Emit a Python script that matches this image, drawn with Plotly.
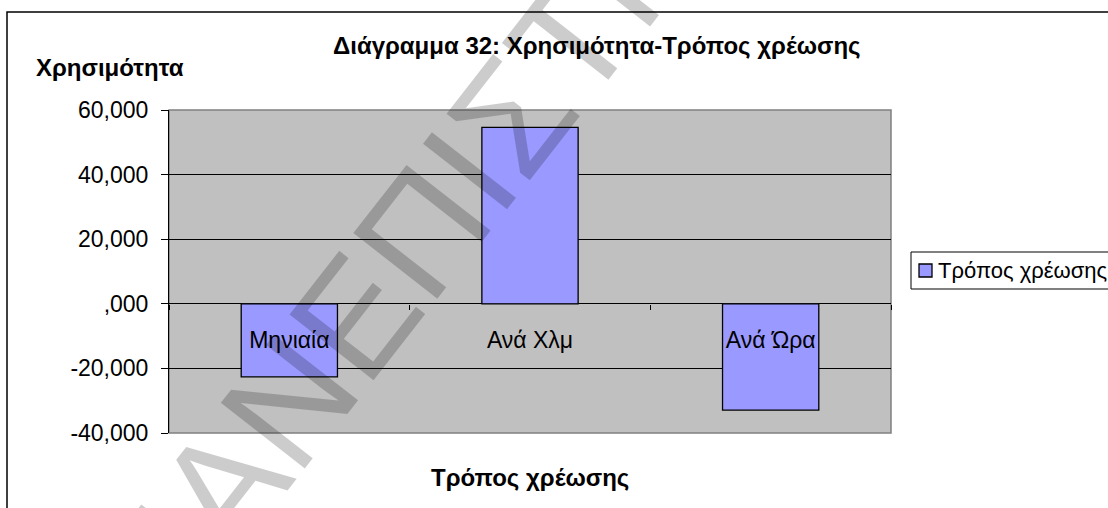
import plotly.graph_objects as go

categories = ["Μηνιαία", "Ανά Χλμ", "Ανά Ώρα"]
values = [-22.6, 54.6, -32.9]
series_name = "Τρόπος χρέωσης"
y_tickvals = [-40, -20, 0, 20, 40, 60]
y_ticktext = ["-40,000", "-20,000", ",000", "20,000", "40,000", "60,000"]
title_text = "Διάγραμμα 32: Χρησιμότητα-Τρόπος χρέωσης"
y_title = "Χρησιμότητα"
x_title = "Τρόπος χρέωσης"
watermark = "ΠΑΝΕΠΙΣΤΗΜΙΟ"

W, H = 1108, 508
L, R, T, B = 169, 891, 110, 433
FONT = "Arial, Liberation Sans, sans-serif"
BAR_COLOR = "#9999FF"

def px(x):
    return (x - L) / (R - L)

def py(y):
    return (B - y) / (B - T)

fig = go.Figure()
fig.add_trace(go.Bar(
    x=categories, y=values, name=series_name, width=0.4,
    marker=dict(color=BAR_COLOR, line=dict(color="black", width=1.3)),
    showlegend=False,
))

ymin, ymax = -40, 60
zero_frac = (0 - ymin) / (ymax - ymin)

fig.update_layout(
    width=W, height=H,
    margin=dict(l=L, r=W - R, t=T, b=H - B, autoexpand=False),
    paper_bgcolor="white",
    plot_bgcolor="#C0C0C0",
    font=dict(family=FONT, color="black"),
    xaxis=dict(
        anchor="free", position=zero_frac,
        showgrid=False, showline=False, zeroline=False,
        ticks="outside", ticklen=5, tickcolor="black", tickwidth=1,
        tickson="boundaries",
        tickfont=dict(size=23, family=FONT),
        ticklabelstandoff=20,
    ),
    yaxis=dict(
        range=[ymin, ymax], tickvals=y_tickvals, ticktext=y_ticktext,
        showgrid=True, gridcolor="black", gridwidth=1,
        zeroline=True, zerolinecolor="black", zerolinewidth=1,
        showline=True, linecolor="black", linewidth=1,
        ticks="outside", ticklen=7, tickcolor="black",
        tickfont=dict(size=23, family=FONT),
        ticklabelstandoff=8,
    ),
    showlegend=False,
    bargap=0.6,
)

# plot area border (gray), outer chart border
fig.add_shape(type="rect", xref="paper", yref="paper", x0=0, x1=1, y0=0, y1=1,
              line=dict(color="#808080", width=1.5), layer="below")
fig.add_shape(type="rect", xref="paper", yref="paper",
              x0=px(7), x1=px(1120), y0=py(520), y1=py(12),
              line=dict(color="black", width=1.5))

# legend (Excel style box)
fig.add_shape(type="rect", xref="paper", yref="paper",
              x0=px(911), x1=px(1125), y0=py(289), y1=py(252),
              line=dict(color="black", width=1), fillcolor="white")
fig.add_shape(type="rect", xref="paper", yref="paper",
              x0=px(919), x1=px(932), y0=py(277), y1=py(264),
              line=dict(color="black", width=1.3), fillcolor=BAR_COLOR)
fig.add_annotation(text=series_name, xref="paper", yref="paper",
                   x=px(936), y=py(270), xanchor="left", yanchor="middle",
                   showarrow=False, font=dict(size=22, family=FONT))

fig.add_annotation(text="<b>" + title_text + "</b>", xref="paper", yref="paper",
                   x=px(597), y=py(46), xanchor="center", yanchor="middle",
                   showarrow=False, font=dict(size=24, family=FONT))
fig.add_annotation(text="<b>" + y_title + "</b>", xref="paper", yref="paper",
                   x=px(34), y=py(67), xanchor="left", yanchor="middle",
                   showarrow=False, font=dict(size=24, family=FONT))
fig.add_annotation(text="<b>" + x_title + "</b>", xref="paper", yref="paper",
                   x=px(530), y=py(477), xanchor="center", yanchor="middle",
                   showarrow=False, font=dict(size=24, family=FONT))

# watermark
fig.add_annotation(text=watermark, xref="paper", yref="paper",
                   x=px(485), y=py(150), xanchor="center", yanchor="middle",
                   showarrow=False, textangle=-52,
                   font=dict(size=155, family=FONT, color="rgba(0,0,0,0.2)"))

fig.write_html("out.html")
